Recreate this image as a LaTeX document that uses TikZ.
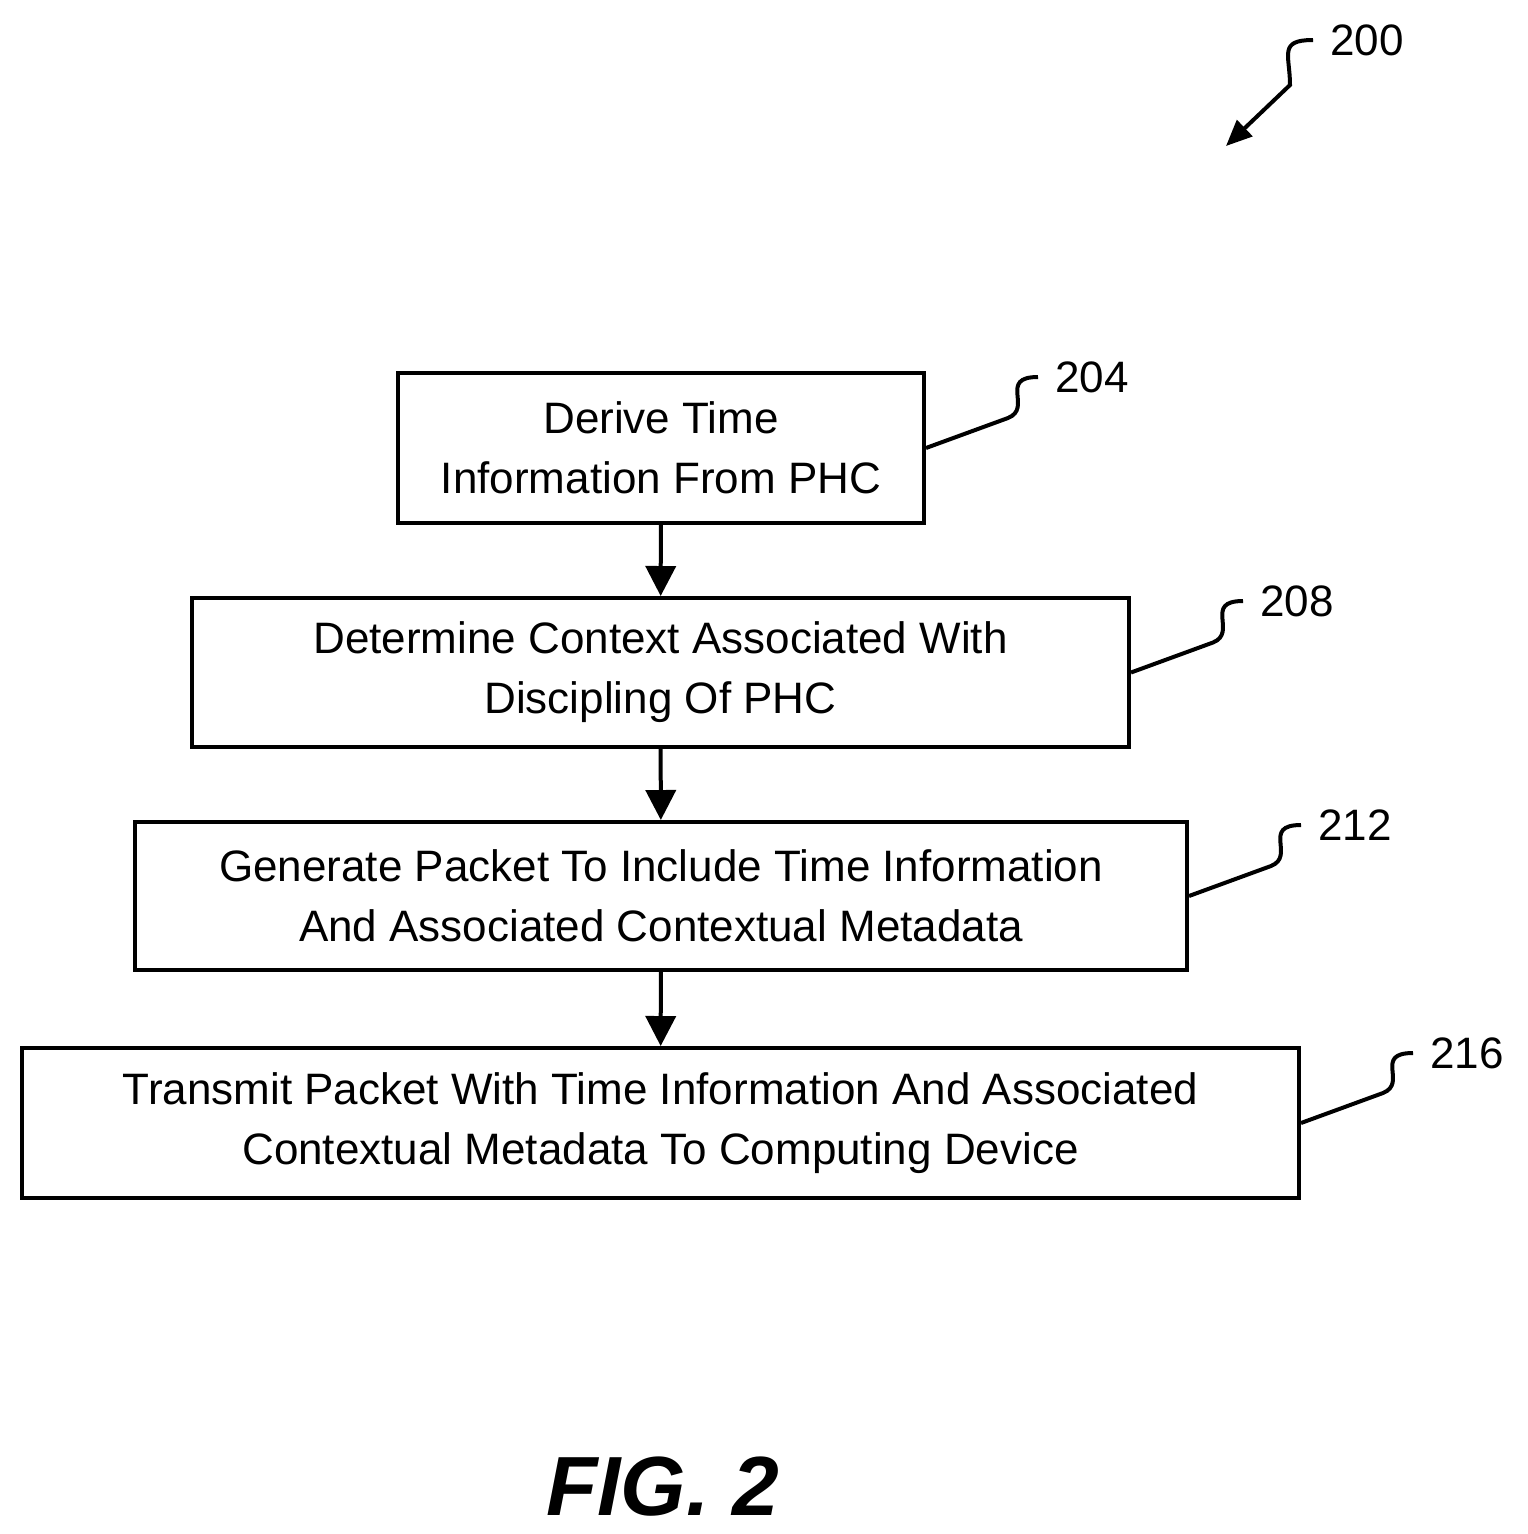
\documentclass[tikz,border=0pt]{standalone}
\usepackage{fontspec}
\setmainfont{Liberation Sans}
\usetikzlibrary{arrows.meta, positioning}
\begin{document}
\begin{tikzpicture}[
		x=1pt, y=-1pt,
		line width=4pt,
		box/.style= {
				draw,
				rectangle,
				align=center,
				font=\fontsize{44}{60}\selectfont
			},
		num/.style= {
				font=\fontsize{44}{50}\selectfont
			},
		myarrow/.style= {
				-{Triangle[length=30pt,width=30pt]}
			},
		lead/.style= {
				line width=4pt
			}
	]
	\useasboundingbox (0,0) rectangle (1528,1534);

	\node[box, minimum width=526pt, minimum height=150pt] (b204) at (661,448) {Derive Time\\Information From PHC};
	\node[box, minimum width=937pt, minimum height=149pt] (b208) at (660.5,672.5) {Determine Context Associated With\\Discipling Of PHC};
	\node[box, minimum width=1052pt, minimum height=148pt] (b212) at (661,896) {Generate Packet To Include Time Information\\And Associated Contextual Metadata};
	\node[box, minimum width=1277pt, minimum height=150pt] (b216) at (660.5,1123) {Transmit Packet With Time Information And Associated\\Contextual Metadata To Computing Device};

	\draw[myarrow] (b204) -- (b208);
	\draw[myarrow] (b208) -- (b212);
	\draw[myarrow] (b212) -- (b216);

	% reference numerals
	\node[num, anchor=west] (l204) at (1050,377) {204};
	\node[num, anchor=west] (l208) at (1255,601) {208};
	\node[num, anchor=west] (l212) at (1313,825) {212};
	\node[num, anchor=west] (l216) at (1425,1053) {216};
	\node[num, anchor=west] (l200) at (1325,40) {200};

	\foreach \b/\l in {b204/l204, b208/l208, b212/l212, b216/l216}
		\draw[lead] (\b.east) -- ++(82,-30) .. controls +(25,-10) and +(-40,0) .. ([xshift=-12pt]\l.west);

	\coordinate (t200) at (1226,146);
	\draw[lead, -{Triangle[length=26pt,width=22pt]}] ([xshift=-12pt]l200.west) .. controls +(-35,0) and +(0,-30) .. (1290,85) -- (t200);

	\node[font=\fontsize{84}{90}\selectfont\bfseries\itshape] (fig) at (663,1487) {FIG. 2};
\end{tikzpicture}
\end{document}
